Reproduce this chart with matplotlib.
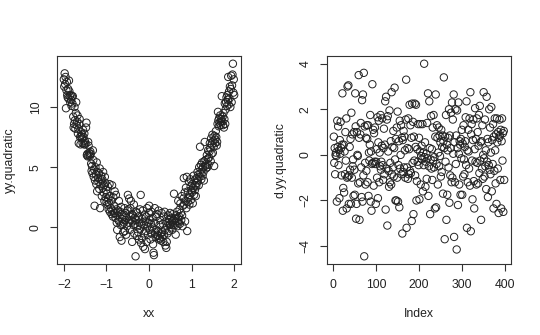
import numpy as np
import matplotlib.pyplot as plt

plt.rcParams['font.family'] = ['Liberation Sans', 'DejaVu Sans']

# yy.quadratic values, in order of xx (-2 .. 2)
yy_quadratic = [
    12.3, 11.7, 12.8, 11.9, 12.5, 9.9, 11.4, 12.1, 11.0, 10.8,
    11.5, 10.7, 12.2, 11.3, 10.9, 10.4, 11.0, 10.6, 10.1, 10.9,
    10.3, 10.9, 9.2, 8.3, 8.6, 10.0, 8.9, 8.2, 9.5, 10.4,
    8.5, 8.8, 9.3, 7.8, 8.2, 7.0, 8.6, 9.0, 7.5, 6.9,
    7.6, 7.9, 7.4, 7.7, 7.0, 8.1, 7.5, 6.9, 7.8, 7.2,
    6.9, 7.0, 8.3, 8.7, 6.0, 6.1, 5.9, 7.1, 6.8, 6.2,
    6.0, 5.9, 6.3, 6.1, 5.3, 4.7, 5.1, 4.5, 6.4, 5.6,
    4.2, 4.8, 1.8, 3.9, 5.0, 4.4, 3.6, 5.4, 3.0, 4.6,
    4.1, 3.8, 4.5, 3.2, 4.9, 1.6, 3.6, 4.3, 3.9, 2.6,
    4.0, 3.3, 4.6, 2.9, 3.5, 2.2, 4.2, 3.7, 2.5, 3.1,
    2.1, 2.8, 1.9, 3.4, 2.4, 1.5, 2.0, 3.6, 1.3, 2.6,
    1.6, 2.2, 1.1, 3.5, 1.4, 0.9, 2.5, 1.2, 1.8, 3.0,
    1.2, 0.8, 2.7, 1.5, 0.4, -0.2, 1.0, 1.4, 0.6, 2.2,
    0.5, -0.8, 1.3, 0.2, 1.7, -1.1, 0.7, 1.0, 0.3, -0.4,
    0.9, 0.4, 1.6, -0.3, 0.6, 1.2, -0.6, 0.8, 0.1, 1.4,
    2.7, 1.5, 0.4, 2.4, 0.9, -0.2, 1.6, 2.2, 0.6, 1.1,
    -1.2, 0.5, 1.0, 0.2, 1.9, -0.5, 0.8, 0.3, -2.4, 1.3,
    0.6, -0.7, 1.2, 0.1, -0.4, 0.9, -1.0, 0.4, 1.5, -0.1,
    2.7, -1.3, 0.3, -0.9, 0.7, 1.4, -1.6, 0.2, -0.5, 1.0,
    -1.8, 0.5, -0.3, 0.9, -1.2, 1.6, 0.1, -0.6, 0.4, 1.2,
    1.8, -0.2, 0.6, -1.0, 0.3, 1.3, -0.5, 0.0, 0.8, -1.4,
    -2.1, -2.3, 0.4, 1.6, -0.4, -0.8, 0.9, -0.2, 1.1, -0.6,
    -0.7, -0.3, 1.4, -1.0, 0.2, -0.9, 0.6, -0.5, -1.1, 1.2,
    -0.4, -0.8, 0.3, -1.2, 0.9, -0.6, 1.3, -0.2, -1.5, 0.5,
    -1.7, -1.2, 0.1, -0.5, 1.0, 0.4, -0.3, 0.7, 0.2, 1.2,
    0.3, 0.0, 0.8, 0.5, -0.2, 1.1, 0.2, 0.6, 2.8, 0.4,
    0.7, 0.2, -0.6, 1.0, 0.5, 1.3, 0.1, 0.8, 2.2, 0.4,
    0.9, 1.5, 0.3, 2.0, 1.2, 0.6, 2.6, 1.0, 0.1, 1.8,
    2.4, 4.1, 1.9, 2.9, 0.5, 2.2, 3.3, 1.6, 4.2, -0.3,
    2.1, 3.0, 2.5, 3.8, 1.9, 2.7, 4.0, 3.4, 2.3, 3.1,
    2.9, 3.6, 2.0, 3.3, 4.3, 2.7, 3.9, 3.1, 3.5, 2.6,
    3.4, 4.1, 3.7, 4.6, 3.9, 4.4, 3.5, 5.0, 4.2, 6.7,
    4.5, 5.2, 4.0, 4.8, 5.4, 4.3, 5.0, 4.6, 3.9, 5.5,
    7.1, 5.1, 5.6, 4.9, 5.3, 6.0, 5.0, 5.7, 6.4, 5.2,
    5.8, 6.3, 7.0, 6.6, 5.5, 7.4, 6.1, 6.9, 7.7, 6.2,
    7.2, 6.7, 5.1, 7.6, 7.0, 7.3, 8.0, 7.5, 6.8, 7.1,
    8.6, 9.6, 8.9, 8.4, 9.1, 8.7, 9.3, 8.5, 8.8, 9.0,
    10.9, 8.8, 9.2, 8.5, 9.5, 8.3, 9.0, 10.3, 8.6, 9.8,
    10.4, 10.8, 10.1, 11.0, 10.6, 12.5, 10.2, 11.3, 10.7, 11.7,
    10.0, 11.5, 12.6, 10.4, 11.8, 12.7, 13.6, 11.2, 12.3, 11.0,
]

# d.yy.quadratic values, by Index
d_yy_quadratic = [
    0.8, -0.35, 0.3, -0.85, 0.0, 0.1, -0.05, -2.05, 1.5, 0.35,
    1.25, -0.45, 0.2, -1.9, 0.65, 0.05, 1.45, 0.3, -0.9, 0.45,
    2.7, -2.45, -1.45, 0.45, -1.65, 0.15, -0.85, 1.0, -0.25, 1.6,
    -2.35, -1.0, 3.0, -0.95, 3.05, -2.15, -0.9, 0.35, -0.65, 0.7,
    -2.15, 1.85, -1.0, 0.9, -0.5, -0.2, -1.8, 1.0, -0.65, -1.75,
    2.7, 1.25, -2.8, -2.15, 1.0, 0.0, -0.05, -1.25, 3.5, 0.75,
    -2.85, -1.2, 0.9, 1.4, -0.55, -1.85, 2.4, -2.05, 2.65, -0.9,
    3.6, -4.45, 1.25, -0.35, -1.3, 0.75, -0.7, 1.3, 0.7, -1.2,
    1.3, -1.8, 0.1, -0.25, 0.45, 1.75, -2.05, 0.15, -2.45, -0.4,
    3.1, -0.35, 1.1, -1.35, 0.95, -0.3, 1.2, -0.4, -2.15, -0.3,
    0.25, -1.0, 1.65, -1.9, 0.55, 1.5, -1.2, 0.1, -0.5, 1.75,
    -0.65, -0.3, 0.4, 1.6, -0.45, -1.1, 0.3, 1.15, -0.85, 0.45,
    2.35, -2.4, 2.55, -0.6, 1.55, -3.1, 1.7, 0.15, -0.7, -1.4,
    1.95, -1.2, -0.35, 0.6, -1.3, 2.75, -0.85, 0.35, -0.55, 1.05,
    -0.95, 0.3, 2.95, -0.2, -2.0, 0.7, -2.0, 1.2, -1.0, 1.9,
    -2.05, -0.45, 0.6, -2.3, 1.5, -0.6, 0.0, 1.3, -0.85, 0.75,
    -3.45, 0.65, -0.75, 1.05, -0.55, 0.8, 0.2, -1.0, 1.55, 3.3,
    -3.2, -0.55, 0.3, -1.05, 1.6, -0.85, 0.25, 2.2, -0.7, 1.3,
    -0.8, 0.75, -2.9, 2.25, -0.35, 1.45, -2.6, 0.8, -0.25, 2.25,
    -0.9, 0.35, 2.2, -2.0, -1.15, 0.25, -0.3, 1.35, -0.45, 0.75,
    -1.95, 0.15, 1.35, -1.3, -0.05, 0.4, -0.2, 1.35, -1.6, 0.1,
    -0.45, 4.0, -0.1, 0.55, -1.4, -0.3, 0.05, -1.05, 1.4, -0.15,
    2.7, -1.8, -0.5, 2.35, 0.3, -2.6, -0.2, 1.7, -0.6, 0.25,
    -1.1, 1.2, -0.25, 1.75, -0.55, -0.1, -2.35, 0.8, 2.65, -2.3,
    -0.4, 1.3, 0.75, -1.3, 0.1, 1.2, -0.5, 0.85, -0.05, 0.55,
    -0.95, 1.1, -0.75, 0.35, 0.85, -1.7, 0.6, 3.4, 0.3, -3.7,
    0.8, -0.3, 1.75, -2.85, 0.45, -1.75, 0.2, 0.75, -0.55, 2.0,
    -2.1, 0.85, -0.9, 0.3, 1.85, -1.2, 2.3, -1.0, 1.55, 0.05,
    2.65, -3.6, 0.55, -1.2, 2.0, -0.4, 0.85, -4.15, 1.95, 0.3,
    -2.2, 2.3, 0.05, -1.3, 0.6, 0.45, -1.75, 0.7, -0.15, 1.1,
    -1.75, 0.5, -0.95, 1.3, -0.2, -0.85, 0.35, 0.6, 1.65, -0.45,
    2.35, -3.2, 0.2, -1.2, 1.1, 0.15, -0.6, 1.6, -1.35, 2.75,
    -3.35, 0.9, 1.35, -0.25, -1.95, 0.65, 1.55, -1.15, -2.35, 0.25,
    2.05, -0.3, 0.7, -1.3, 1.6, -0.35, 1.0, -1.25, 0.4, 1.75,
    -0.8, 2.15, -0.25, 0.55, -2.85, 0.6, -0.6, 1.3, -1.05, 0.0,
    2.75, -0.15, -0.95, 1.55, -0.5, 0.2, -1.5, 2.55, -0.3, 0.7,
    -1.85, 0.55, -0.45, 2.0, -0.65, 1.2, -0.85, 0.1, 2.1, -1.6,
    0.65, -0.4, 1.35, -2.35, 0.8, -0.7, 1.6, 0.2, -1.25, 0.9,
    -2.15, 1.6, 0.55, -0.6, 1.0, -2.55, 0.75, 1.55, 0.85, -1.1,
    1.1, -2.35, 0.6, 1.6, -0.25, 0.95, -2.5, 1.05, -1.1,
]

xx_range = (-2, 2)
xx_ticks = [-2, -1, 0, 1, 2]
yy_ticks = [0, 5, 10]
index_ticks = [0, 100, 200, 300, 400]
d_ticks = [-4, -2, 0, 2, 4]

# xx is an evenly spaced grid, the index is simply 1..n
xx = np.linspace(xx_range[0], xx_range[1], len(yy_quadratic))
index = np.arange(1, len(d_yy_quadratic) + 1)


# R style padding: 4% of the data range on each side
def r_lim(v):
    lo, hi = np.min(v), np.max(v)
    pad = 0.04 * (hi - lo)
    return lo - pad, hi + pad


def r_axes(ax, xticks, yticks):
    ax.set_xticks(xticks)
    ax.set_yticks(yticks)
    for s in ax.spines.values():
        s.set_linewidth(0.8)
        s.set_color('#333333')
    ax.tick_params(direction='out', length=5, width=0.8, color='#333333',
                   labelsize=8.8, labelcolor='#222222', pad=6)
    ax.tick_params(axis='y', labelrotation=90)
    for lab in ax.get_yticklabels():
        lab.set_va('center')


fig = plt.figure(figsize=(5.4, 3.35), dpi=100)
ax1 = fig.add_axes([0.1056, 0.2119, 0.3407, 0.6209])
ax2 = fig.add_axes([0.6056, 0.2119, 0.3407, 0.6209])

ax1.scatter(xx, yy_quadratic, s=28, facecolors='none', edgecolors='#222222', linewidths=0.7)
ax1.set_xlim(r_lim(xx))
ax1.set_ylim(r_lim(yy_quadratic))
r_axes(ax1, xx_ticks, yy_ticks)
ax1.set_xlabel('xx', fontsize=8.8, color='#222222')
ax1.set_ylabel('yy.quadratic', fontsize=8.8, color='#222222')
ax1.xaxis.set_label_coords(0.5, -0.24)
ax1.yaxis.set_label_coords(-0.255, 0.5)
ax1.xaxis.label.set_va('center')
ax1.yaxis.label.set_va('center')

ax2.scatter(index, d_yy_quadratic, s=28, facecolors='none', edgecolors='#222222', linewidths=0.7)
ax2.set_xlim(r_lim(index))
ax2.set_ylim(r_lim(d_yy_quadratic))
r_axes(ax2, index_ticks, d_ticks)
ax2.set_xlabel('Index', fontsize=8.8, color='#222222')
ax2.set_ylabel('d.yy.quadratic', fontsize=8.8, color='#222222')
ax2.xaxis.set_label_coords(0.5, -0.24)
ax2.yaxis.set_label_coords(-0.255, 0.5)
ax2.xaxis.label.set_va('center')
ax2.yaxis.label.set_va('center')

fig.savefig('out.png', dpi=100)
